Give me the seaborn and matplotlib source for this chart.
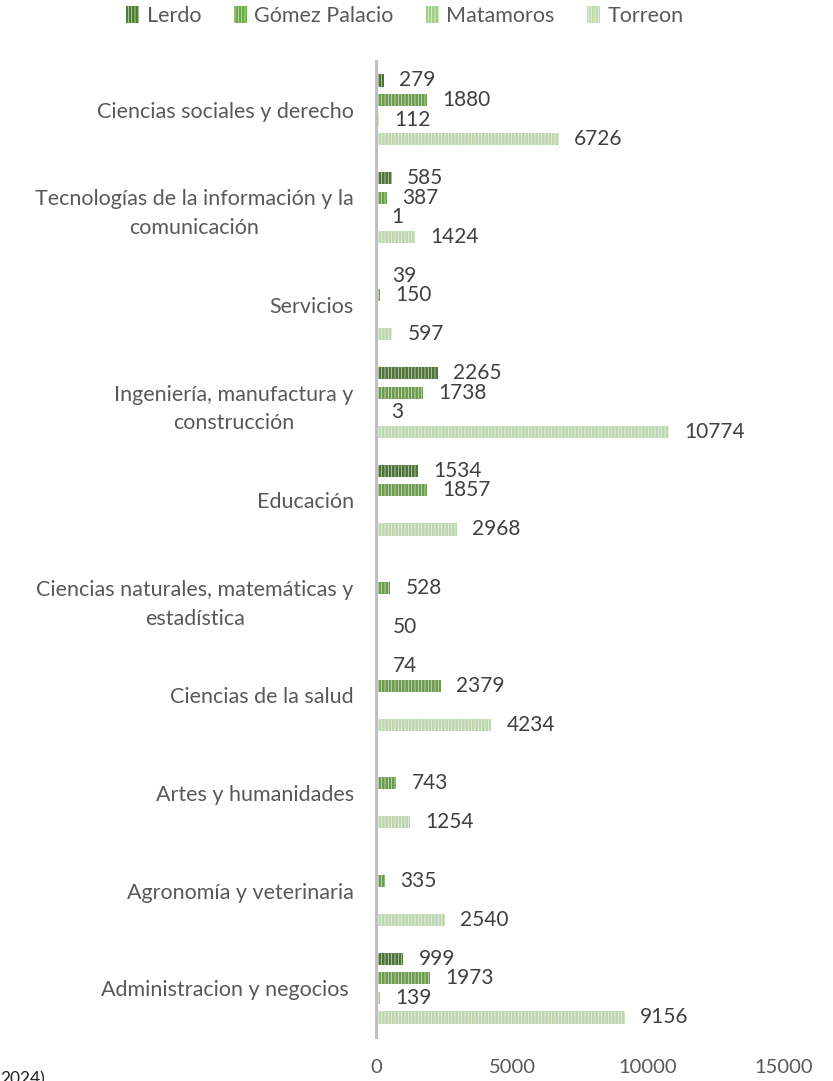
import numpy as np
import pandas as pd
import matplotlib
matplotlib.use("Agg")
import matplotlib.pyplot as plt
import seaborn as sns
from matplotlib.patches import Patch

categories = [
    "Ciencias sociales y derecho",
    "Tecnologías de la información y la\ncomunicación",
    "Servicios",
    "Ingeniería, manufactura y\nconstrucción",
    "Educación",
    "Ciencias naturales, matemáticas y\nestadística",
    "Ciencias de la salud",
    "Artes y humanidades",
    "Agronomía y veterinaria",
    "Administracion y negocios ",
]
series = ["Lerdo", "Gómez Palacio", "Matamoros", "Torreon"]
lerdo = [279, 585, 39, 2265, 1534, np.nan, 74, np.nan, np.nan, 999]
gomez = [1880, 387, 150, 1738, 1857, 528, 2379, 743, 335, 1973]
matamoros = [112, 1, np.nan, 3, np.nan, np.nan, np.nan, np.nan, np.nan, 139]
torreon = [6726, 1424, 597, 10774, 2968, 50, 4234, 1254, 2540, 9156]

colors = ["#4E7E30", "#6AA842", "#A2CD85", "#BEDDAA"]

rows = []
for name, vals in zip(series, [lerdo, gomez, matamoros, torreon]):
    for cat, v in zip(categories, vals):
        rows.append({"area": cat, "municipio": name, "valor": v})
df = pd.DataFrame(rows)

sns.set_theme(style="white")
plt.rcParams["font.family"] = ["Lato", "DejaVu Sans"]
plt.rcParams["hatch.linewidth"] = 0.5

fig = plt.figure(figsize=(8.33, 10.81), dpi=100)
ax = fig.add_axes([0.4514, 0.0407, 0.4898, 0.9029])

sns.barplot(
    data=df, y="area", x="valor", hue="municipio",
    order=categories, hue_order=series, palette=colors,
    orient="h", errorbar=None, gap=0.38, legend=False, ax=ax,
)

hatch_col = (1, 1, 1, 0.75)
for cont, col in zip(ax.containers, colors):
    for bar in cont:
        bar.set_hatch("|||||")
        bar.set_edgecolor(hatch_col)
        bar.set_linewidth(0)
    labels = ["" if np.isnan(v) else f"{v:.0f}" for v in cont.datavalues]
    ax.bar_label(cont, labels=labels, padding=11, fontsize=15, color="#404040")

ax.set_xlim(0, 15000)
ax.set_xticks([0, 5000, 10000, 15000])
ax.set_xlabel("")
ax.set_ylabel("")
for s in ["top", "right", "bottom"]:
    ax.spines[s].set_visible(False)
ax.spines["left"].set_color("#BFBFBF")
ax.spines["left"].set_linewidth(2.2)
ax.tick_params(axis="x", length=0, pad=16, labelsize=14.5, labelcolor="#595959")
ax.tick_params(axis="y", length=0, pad=16, labelsize=15.5, labelcolor="#595959")
for t in ax.get_yticklabels():
    t.set_multialignment("center")
    t.set_linespacing(1.55)

handles = [Patch(facecolor=c, edgecolor=hatch_col, hatch="|||||", linewidth=0) for c in colors]
fig.legend(handles, series, loc="center", bbox_to_anchor=(405 / 833, 1 - 16 / 1081),
           ncol=4, frameon=False, fontsize=15.5, labelcolor="#595959",
           handlelength=0.6, handleheight=0.8, handletextpad=0.35, columnspacing=1.5)

# footnote cut off at the bottom edge, as in the source image
fig.text(0.0, -0.006, "2024)", fontsize=12.5, color="#202020", ha="left", va="bottom")

fig.savefig("out.png", dpi=100)
